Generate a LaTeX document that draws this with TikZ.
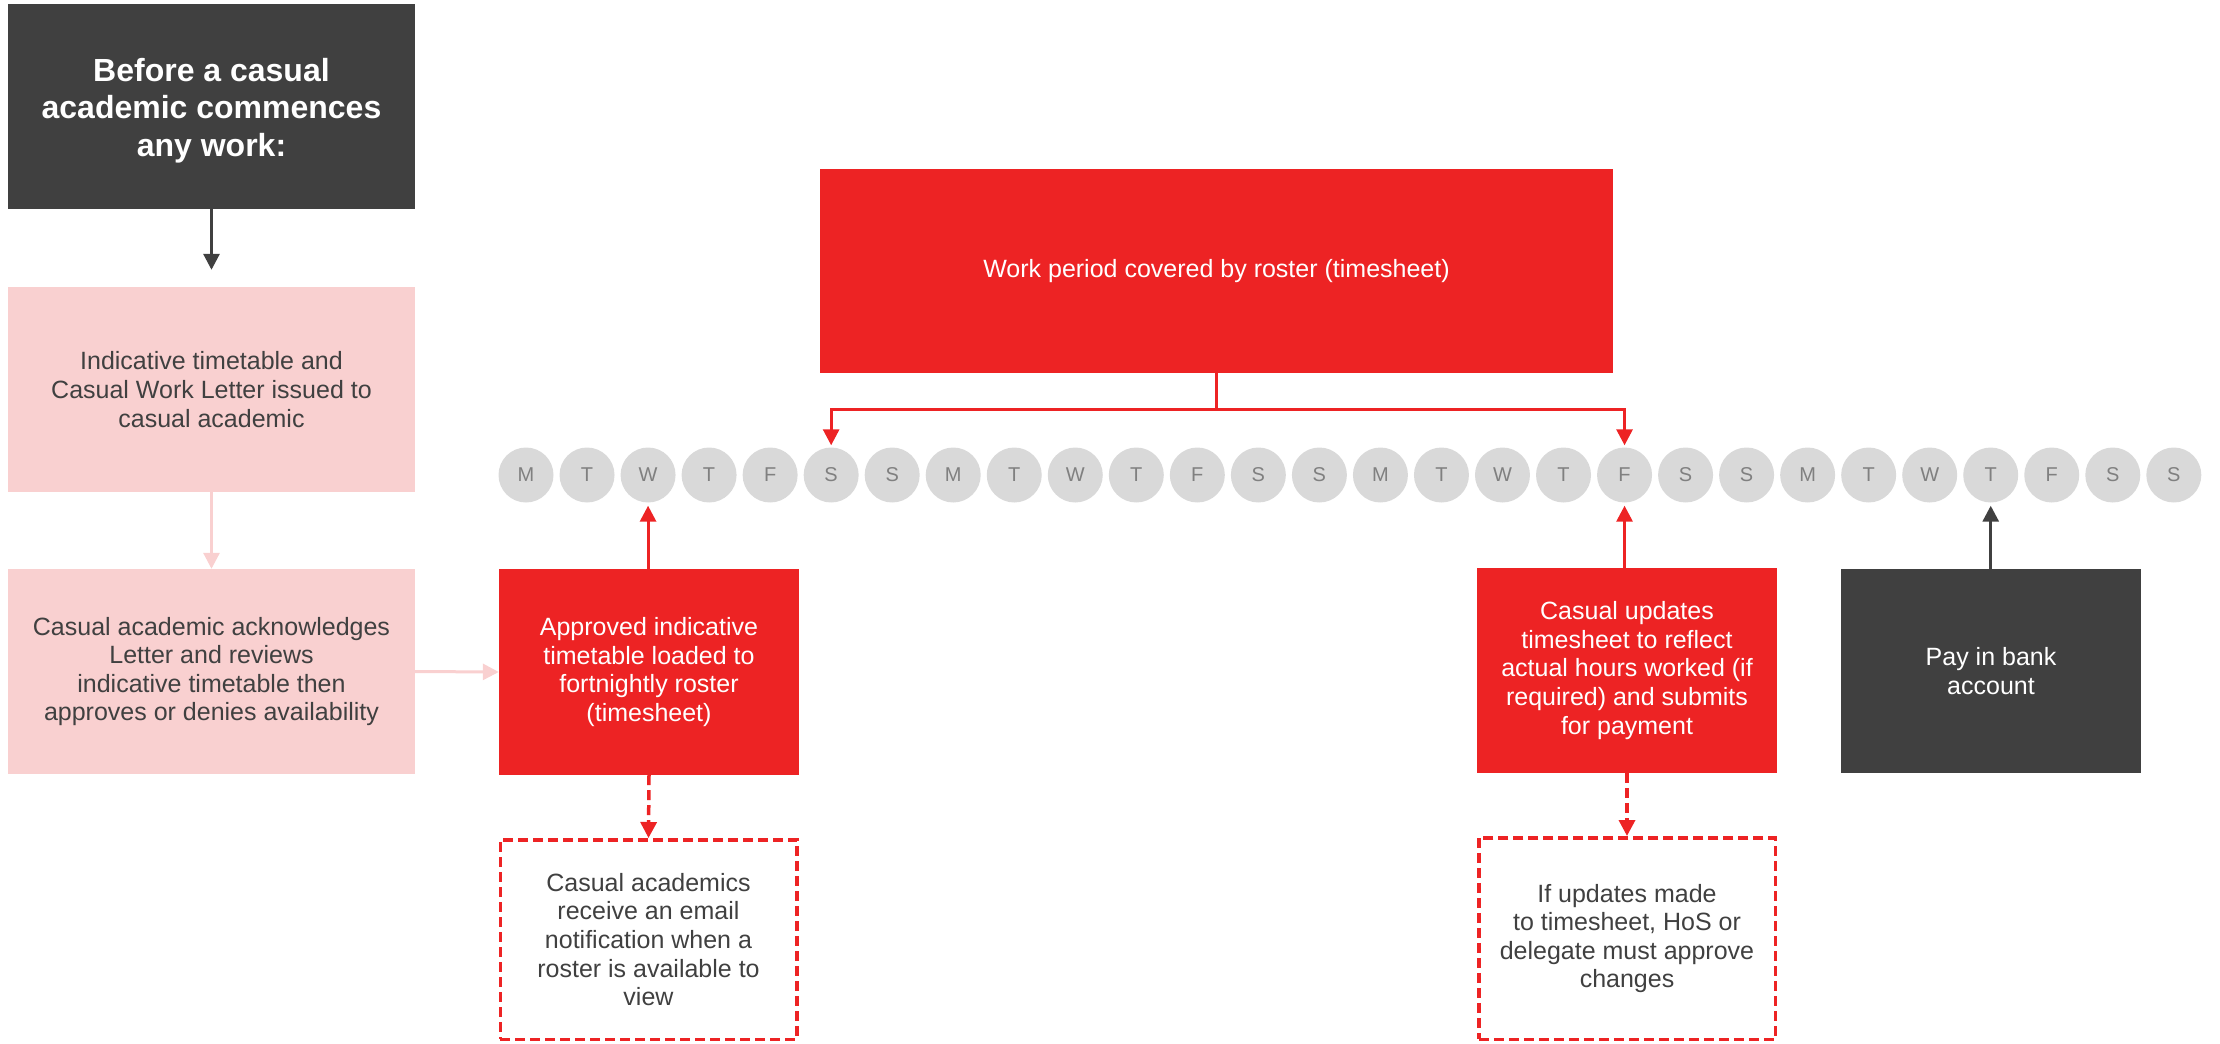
\documentclass[tikz,border=0pt]{standalone}
\usepackage{fontspec}
\setmainfont{Liberation Sans}
\usetikzlibrary{arrows.meta}
\definecolor{cred}{RGB}{237,35,36}
\definecolor{cdark}{RGB}{64,64,64}
\definecolor{cpink}{RGB}{249,208,208}
\definecolor{cgray}{RGB}{217,217,217}
\definecolor{cletter}{RGB}{128,128,128}
\definecolor{ctext}{RGB}{64,64,64}
\begin{document}
\begin{tikzpicture}[x=1pt,y=-1pt,
  box/.style={rectangle, inner sep=0pt, align=center, font=\fontsize{25}{28.6}\selectfont},
  darkbox/.style={box, fill=cdark, text=white},
  redbox/.style={box, fill=cred, text=white},
  pinkbox/.style={box, fill=cpink, text=ctext},
  notebox/.style={box, draw=cred, line width=3.5pt, dash pattern=on 10pt off 5pt, text=ctext},
  day/.style={circle, fill=cgray, text=cletter, minimum size=55pt, inner sep=0pt, font=\fontsize{20}{24}\selectfont},
  tip/.style={-{Triangle[width=16pt,length=16pt]}},
  redarrow/.style={draw=cred, line width=3pt, tip},
  redline/.style={draw=cred, line width=3pt},
  dasharrow/.style={redarrow, line width=3.5pt, dash pattern=on 10pt off 5pt},
  darkarrow/.style={draw=cdark, line width=3pt, tip},
  pinkarrow/.style={draw=cpink, line width=3pt, tip},
]
\useasboundingbox (0,0) rectangle (2220,1044);

% boxes
\node[darkbox, minimum width=407pt, minimum height=205pt] (before) at (211.5,106.5) {};
\node[text=white, align=center, inner sep=0pt, font=\fontsize{32}{37.5}\selectfont\bfseries] (beforetext) at (211.5,110.5)
  {Before a casual\\academic commences\\any work:};
\node[pinkbox, minimum width=407pt, minimum height=205pt] (pinkA) at (211.5,389.5)
  {Indicative timetable and\\Casual Work Letter issued to\\casual academic};
\node[pinkbox, minimum width=407pt, minimum height=205pt] (pinkB) at (211.5,671.5)
  {Casual academic acknowledges\\Letter and reviews\\indicative timetable then\\approves or denies availability};
\node[redbox, minimum width=300pt, minimum height=206pt] (approved) at (649,672)
  {Approved indicative\\timetable loaded to\\fortnightly roster\\(timesheet)};
\node[notebox, minimum width=296.5pt, minimum height=199.5pt] (note1) at (648.5,939.5)
  {Casual academics\\receive an email\\notification when a\\roster is available to\\view};
\node[redbox, minimum width=793pt, minimum height=204pt] (work) at (1216.5,271)
  {Work period covered by roster (timesheet)};
\node[redbox, minimum width=300pt, minimum height=205pt] (updates) at (1627,670.5)
  {Casual updates\\timesheet to reflect\\actual hours worked (if\\required) and submits\\for payment};
\node[notebox, minimum width=296.5pt, minimum height=201.5pt] (note2) at (1627,938.5)
  {If updates made\\to timesheet, HoS or\\delegate must approve\\changes};
\node[darkbox, minimum width=300pt, minimum height=204pt] (pay) at (1991,671)
  {Pay in bank\\account};

% day circles
\foreach \l [count=\i from 0] in {M,T,W,T,F,S,S,M,T,W,T,F,S,S,M,T,W,T,F,S,S,M,T,W,T,F,S,S}
  \node[day] (c\i) at ({526+61.03*\i},475) {\l};

% connectors
\draw[darkarrow, shorten >=17pt] (before.south) -- (pinkA.north);
\draw[pinkarrow] (pinkA.south) -- (pinkB.north);
\draw[pinkarrow] (pinkB.east) -- (approved.west);
\draw[redarrow, shorten >=3pt] (c2 |- approved.north) -- (c2.south);
\draw[dasharrow] (approved.south) -- (note1.north);
\path (work.south) ++(0,36) coordinate (split);
\draw[redline] (work.south) -- (split);
\draw[redarrow, shorten >=2pt] (split) -| (c5.north);
\draw[redarrow, shorten >=2pt] (split) -| (c18.north);
\draw[redarrow, shorten >=3pt] (c18 |- updates.north) -- (c18.south);
\draw[dasharrow] (updates.south) -- (note2.north);
\draw[darkarrow, shorten >=3pt] (c24 |- pay.north) -- (c24.south);
\end{tikzpicture}
\end{document}
